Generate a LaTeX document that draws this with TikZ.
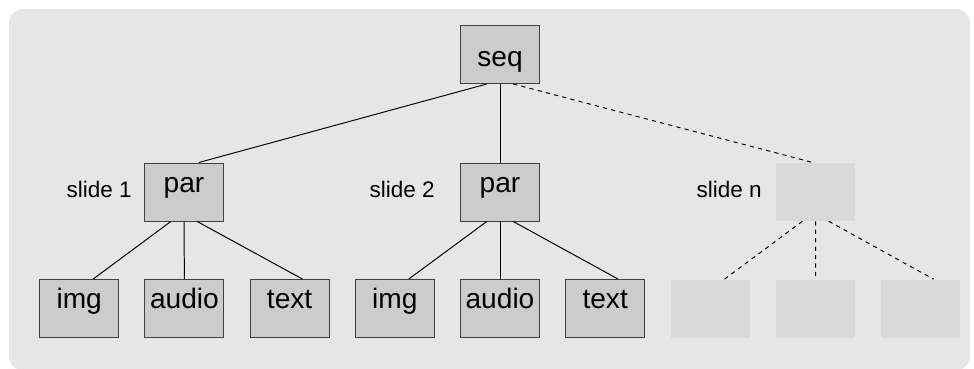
\documentclass[tikz,border=0pt]{standalone}
\usepackage{fontspec}
\setmainfont{Liberation Sans}
\usepackage{xcolor}
\usetikzlibrary{calc}
\definecolor{panelgray}{HTML}{E6E6E6}
\definecolor{boxgray}{HTML}{CCCCCC}
\definecolor{ghostgray}{HTML}{D9D9D9}
\definecolor{rimgray}{HTML}{404040}

\begin{document}
\begin{tikzpicture}[
    box/.style={draw=rimgray, line width=0.7pt, fill=boxgray, inner sep=0pt,
      minimum width=1.975cm, minimum height=1.45cm,
      font=\fontsize{20}{24}\selectfont, text height=0.4cm, text depth=0.4cm},
    ghost/.style={fill=ghostgray, inner sep=0pt,
      minimum width=1.975cm, minimum height=1.45cm},
    slidelabel/.style={anchor=base east, inner sep=0pt, font=\fontsize{16}{19}\selectfont},
    link/.style={black, line width=0.7pt},
    ghostlink/.style={link, dashed}
  ]
  \useasboundingbox (0,0) rectangle (24.35,-9.2);
  \fill[panelgray, rounded corners=0.35cm] (0.225,-0.225) rectangle (24.25,-9.26);

  % root and the slides
  \node[box, text height=0.6cm, text depth=0.025cm] (seq) at (12.5,-1.3625) {seq};
  \node[box] (par1) at (4.6,-4.8) {par};
  \node[box] (par2) at (12.5,-4.8) {par};
  \node[ghost] (parn) at (20.39,-4.8) {};
  \node[slidelabel] (slide1) at (3.3,-4.93) {slide 1};
  \node[slidelabel] (slide2) at (10.875,-4.93) {slide 2};
  \node[slidelabel] (sliden) at (19.05,-4.93) {slide n};

  % media leaves
  \foreach \name/\txt [count=\i from -4] in {img1/img, audio1/audio, text1/text,
      img2/img, audio2/audio, text2/text} {
    \node[box] (\name) at (12.5+2.63*\i,-7.7125) {\txt};
  }
  \foreach \name [count=\i from 2] in {blankA, blankB, blankC} {
    \node[ghost] (\name) at (12.5+2.63*\i,-7.7125) {};
  }

  \draw[link] ($(seq.south)+(-0.33,0)$) -- ($(par1.north)+(0.37,0)$);
  \draw[link] (seq.south) -- (par2.north);
  \draw[ghostlink] ($(seq.south)+(0.33,0)$) -- ($(parn.north)+(-0.05,0)$);

  \foreach \p/\a/\b/\c/\st in {par1/img1/audio1/text1/link,
      par2/img2/audio2/text2/link, parn/blankA/blankB/blankC/ghostlink} {
    \draw[\st] ($(\p.south)+(-0.33,0)$) -- ($(\a.north)+(0.35,0)$);
    \draw[\st] (\p.south) -- (\b.north);
    \draw[\st] ($(\p.south)+(0.33,0)$) -- ($(\c.north)+(0.32,0)$);
  }
\end{tikzpicture}
\end{document}
